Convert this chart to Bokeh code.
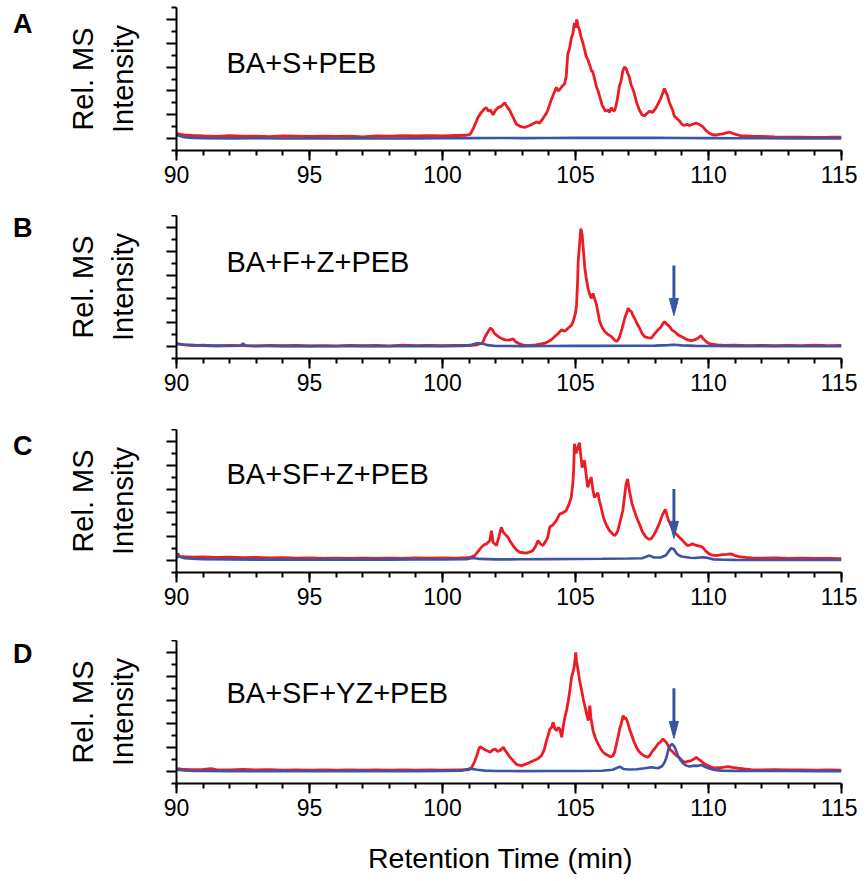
from bokeh.plotting import figure
from bokeh.layouts import column, row
from bokeh.models import FixedTicker, Label, ColumnDataSource, Div
from bokeh.embed import file_html
from bokeh.resources import INLINE

# ---------------- data ----------------
X_MAJOR = [90, 95, 100, 105, 110, 115]
X_MINOR = list(range(90, 116))
Y_MAJOR = [0, 20, 40, 60, 80, 100]
Y_MINOR = [-10, 10, 30, 50, 70, 90, 110]

PANEL_LETTERS = ["A", "B", "C", "D"]
PANEL_TITLES = ["BA+S+PEB", "BA+F+Z+PEB", "BA+SF+Z+PEB", "BA+SF+YZ+PEB"]
X_TITLE = "Retention Time (min)"
Y_TITLE = "Rel. MS\nIntensity"

A_RED = [(90.0,4.5),(90.15,3.5),(90.3,3.0),(90.6,2.6),(91.0,2.2),(91.5,1.9),(92.0,2.4),(92.5,2.0),(93.0,2.1),(93.5,1.7),
 (94.0,2.2),(94.5,2.0),(95.0,1.8),(95.5,2.1),(96.0,1.9),(96.5,2.0),(97.0,1.5),(97.5,2.3),(98.0,2.0),(98.5,2.4),(99.0,2.2),
 (99.5,2.5),(100.0,2.3),(100.5,2.6),(100.9,2.8),(101.03,3.5),(101.15,8),(101.34,18),(101.46,22),(101.58,25),(101.65,26),
 (101.72,23),(101.8,24),(101.9,20),(102.0,24),(102.09,26),(102.2,27),(102.34,30),(102.42,27),(102.53,23.5),(102.65,18),
 (102.78,12),(102.9,10.5),(102.96,10),(103.1,9.5),(103.28,11),(103.4,12.5),(103.53,14),(103.65,13),(103.78,17),(103.9,21),
 (103.96,24),(104.05,30),(104.15,36),(104.28,43),(104.35,40),(104.4,41),(104.5,44),(104.59,46),(104.65,52),(104.71,71),
 (104.78,76),(104.84,84),(104.9,88),(104.96,97),(105.0,93),(105.05,100),(105.1,94),(105.15,91),(105.2,86),(105.28,80),
 (105.35,74),(105.4,69),(105.47,66),(105.53,62),(105.6,57),(105.65,56),(105.72,50),(105.78,44),(105.85,40),(105.9,36),
 (106.0,28),(106.03,27),(106.12,23),(106.21,24),(106.28,22),(106.34,26),(106.4,24),(106.46,23),(106.52,27),(106.59,35),
 (106.65,44),(106.71,48),(106.78,57),(106.84,60),(106.9,59),(106.96,55),(107.02,52),(107.09,45),(107.15,42),(107.21,38),
 (107.3,30),(107.4,24),(107.5,20),(107.59,19),(107.68,21),(107.78,23),(107.9,22),(108.03,26),(108.12,30),(108.21,34),
 (108.28,38),(108.34,42),(108.4,39),(108.46,36),(108.52,31),(108.59,27),(108.65,24),(108.71,19),(108.8,17),(108.9,15),
 (109.0,12),(109.09,11),(109.2,12),(109.28,11),(109.4,12),(109.53,13),(109.65,12),(109.78,10),(109.9,7),(110.03,4.5),
 (110.15,3.2),(110.28,3),(110.4,3.5),(110.53,4),(110.7,5),(110.78,5.5),(110.9,4.5),(111.03,3.5),(111.2,2.5),(111.4,2.3),
 (111.65,2.0),(112.0,1.8),(112.5,1.4),(113.0,1.2),(113.5,1.3),(114.0,1.0),(114.5,1.1),(115.0,1.2)]

A_BLUE = [(90.0,3.2),(90.15,2.0),(90.3,1.2),(90.6,0.6),(91,0.3),(92,0.2),(93,0.3),(94,0.1),(95,0.2),(96,0.1),(97,0.2),
 (98,0.1),(99,0.2),(100,0.3),(101,0.4),(102,0.5),(103,0.4),(104,0.5),(105,0.6),(106,0.6),(107,0.7),(108,0.6),(109,0.5),
 (110,0.4),(111,0.3),(112,0.3),(113,0.2),(114,0.2),(115,0.2)]

B_RED = [(90.0,2.5),(90.3,1.5),(90.6,0.8),(91,1.2),(91.5,0.6),(92,1.0),(92.5,0.8),(93,0.5),(93.5,1.0),(94,0.7),(94.5,0.9),
 (95,0.5),(95.5,0.8),(96,0.6),(96.5,1.0),(97,0.7),(97.5,0.9),(98,0.6),(98.5,1.1),(99,0.8),(99.5,1.0),(100,0.7),(100.5,1.0),
 (101.0,0.9),(101.3,1.5),(101.5,3),(101.6,8),(101.7,12),(101.8,15.5),(101.88,14),(101.95,11),(102.1,8.4),(102.2,7),
 (102.35,5.6),(102.5,5.5),(102.66,6.4),(102.75,4),(102.85,2.8),(103.0,1.5),(103.2,0.8),(103.5,1.5),(103.7,2.2),(103.85,2.8),
 (104.0,4.5),(104.1,6),(104.22,8.4),(104.35,11),(104.47,14),(104.6,13),(104.72,15.4),(104.85,18),(104.91,21),(105.0,28),
 (105.04,35),(105.08,55),(105.1,71),(105.15,85),(105.2,99),(105.25,94),(105.3,80),(105.35,66),(105.4,58),(105.47,49),
 (105.53,44),(105.6,40.5),(105.66,44.7),(105.72,40),(105.79,35),(105.85,28),(105.91,21),(106.0,16),(106.1,12.6),
 (106.2,10.5),(106.35,8.4),(106.45,6),(106.54,4.2),(106.6,5.5),(106.66,8.4),(106.75,15),(106.85,23.8),(106.92,28),
 (106.98,32.2),(107.04,30),(107.1,29.4),(107.16,26),(107.22,23.8),(107.3,20),(107.41,15.4),(107.5,11),(107.6,8.4),
 (107.72,7.5),(107.85,7),(107.95,10),(108.1,14),(108.2,16),(108.28,19),(108.35,21),(108.42,19),(108.54,16.8),(108.62,14),
 (108.72,12.6),(108.85,10),(108.98,8.4),(109.1,7),(109.22,5.6),(109.35,5),(109.47,5.6),(109.6,7),(109.72,9.2),(109.78,7),
 (109.85,5.6),(109.95,3.5),(110.1,2),(110.35,1.4),(110.6,1.0),(111,1.2),(111.5,0.8),(112,1.0),(112.5,0.7),(113,1.0),
 (113.5,0.8),(114,1.1),(114.5,0.8),(115,1.0)]

B_BLUE = [(90.0,2.5),(90.2,1.8),(90.5,1.5),(90.8,1.0),(91.2,0.6),(91.6,0.8),(92.0,0.5),(92.4,0.7),(92.5,2.5),(92.6,0.7),
 (93,0.5),(94,0.4),(95,0.5),(96,0.3),(97,0.4),(98,0.3),(99,0.4),(100,0.4),(100.8,0.6),(101.1,1.5),(101.3,2.8),(101.5,2.5),
 (101.7,1.2),(102,0.5),(103,0.4),(104,0.5),(105,0.6),(106,0.6),(107,0.7),(108,0.8),(108.5,1.2),(108.7,1.6),(109,1.0),
 (109.5,0.6),(110,0.5),(111,0.4),(112,0.4),(113,0.3),(114,0.3),(115,0.3)]

C_RED = [(90.0,3.5),(90.05,6),(90.1,3.5),(90.3,3.2),(90.6,2.8),(91,3.0),(91.5,2.6),(92,2.8),(92.5,2.4),(93,2.6),(93.5,2.2),
 (94,2.4),(94.5,2.1),(95,2.3),(95.5,1.9),(96,2.1),(96.5,1.8),(97,2.0),(97.5,1.8),(98,2.1),(98.5,1.9),(99,2.2),(99.5,2.0),
 (100,2.3),(100.5,2.1),(101.0,2.4),(101.21,4.2),(101.35,8),(101.46,11.2),(101.55,13),(101.65,14),(101.78,16.8),(101.84,25),
 (101.9,15.4),(102.03,12.6),(102.12,20),(102.21,28),(102.28,24),(102.34,22.4),(102.46,19.6),(102.55,16),(102.65,12.6),
 (102.78,9),(102.9,7),(103.15,6.2),(103.4,8.4),(103.5,12),(103.59,16.8),(103.68,14),(103.78,12.6),(103.9,17),(103.96,19.6),
 (104.03,28),(104.15,30),(104.28,33.6),(104.4,39),(104.52,40),(104.65,42),(104.75,47),(104.84,53),(104.9,65),(104.93,75.5),
 (104.96,98),(105.02,90),(105.09,95),(105.15,99),(105.2,88),(105.25,78),(105.3,82),(105.34,84),(105.4,72),(105.46,61.5),
 (105.52,66),(105.59,70),(105.65,60),(105.71,53),(105.78,55),(105.84,57),(105.9,50),(105.96,45),(106.03,38),(106.09,33.6),
 (106.18,29),(106.28,25),(106.37,23),(106.46,21),(106.52,22),(106.59,25),(106.68,33),(106.78,42),(106.85,55),(106.9,64),
 (106.96,68.5),(107.0,62),(107.05,56),(107.12,48),(107.21,42),(107.3,36),(107.4,30.8),(107.52,24),(107.65,19.6),(107.75,18),
 (107.84,18.2),(107.93,21),(108.03,25),(108.15,31),(108.28,39),(108.38,43),(108.44,38),(108.5,33.6),(108.58,30),
 (108.65,26.6),(108.75,23),(108.84,21),(108.93,19),(109.03,16.8),(109.12,14.5),(109.21,12.6),(109.3,13),(109.4,14),
 (109.5,13),(109.59,12.6),(109.7,12),(109.78,11.2),(109.9,8),(110.03,5.6),(110.15,4.5),(110.28,4.2),(110.4,4.5),
 (110.53,5),(110.7,5.2),(110.84,5.6),(111.0,4.2),(111.15,3.4),(111.4,2.6),(111.65,2.2),(112,2.0),(112.5,2.2),(113,1.9),
 (113.5,2.1),(114,1.8),(114.5,1.9),(115,1.6)]

C_BLUE = [(90.0,2.5),(90.1,3.5),(90.3,2.0),(90.6,1.5),(91,1.2),(92,1.0),(93,0.8),(94,0.9),(95,0.7),(96,0.8),(97,0.7),
 (98,0.8),(99,0.9),(100,0.9),(100.9,1.2),(101.15,2.2),(101.4,1.4),(102,1.0),(103,1.1),(104,1.2),(105,1.3),(106,1.5),
 (107,1.8),(107.5,2.0),(107.78,4.2),(107.95,2.6),(108.2,2.6),(108.4,4.5),(108.5,7.5),(108.6,10.5),(108.7,9.5),(108.8,6),
 (108.9,4.2),(109.0,3.5),(109.3,2.4),(109.5,2.2),(109.75,2.8),(109.9,2.5),(110.2,1.0),(110.6,0.7),(111,0.6),(112,0.5),
 (113,0.5),(114,0.5),(115,0.5)]

D_RED = [(90.0,2.5),(90.2,2.0),(90.5,1.6),(91,1.8),(91.3,2.4),(91.5,1.7),(92,1.5),(92.5,1.8),(93,1.4),(93.5,1.6),(94,1.3),
 (94.5,1.5),(95,1.2),(95.5,1.4),(96,1.3),(96.5,1.5),(97,1.2),(97.5,1.4),(98,1.3),(98.5,1.5),(99,1.3),(99.5,1.4),(100,1.3),
 (100.5,1.5),(100.98,1.4),(101.1,3.6),(101.2,8),(101.29,13.4),(101.35,18),(101.41,21),(101.48,20),(101.54,19),(101.66,17.6),
 (101.79,16.2),(101.88,18),(101.98,19),(102.07,17),(102.16,17.6),(102.29,20.4),(102.35,18),(102.41,16.2),(102.5,13),
 (102.6,10.6),(102.7,8),(102.79,5.9),(102.98,5),(103.1,6),(103.22,7),(103.35,8.5),(103.48,9.8),(103.6,11),(103.72,13.4),
 (103.82,18),(103.91,26),(103.98,31),(104.04,35.8),(104.1,37),(104.16,41.4),(104.22,36),(104.29,34.4),(104.35,37),
 (104.41,35.8),(104.48,28.8),(104.54,38),(104.6,45.6),(104.67,52),(104.73,59.6),(104.79,68),(104.85,79),(104.9,83),
 (104.95,87.5),(105.01,100),(105.04,92),(105.08,87.5),(105.15,77),(105.23,68),(105.3,60),(105.35,55.4),(105.42,48),
 (105.48,42.8),(105.51,50),(105.54,55.4),(105.58,45),(105.66,34.4),(105.75,28),(105.85,23.2),(105.95,19),(106.04,16.2),
 (106.13,14.5),(106.23,13.4),(106.32,12.5),(106.41,13.4),(106.48,17),(106.54,23.2),(106.6,29),(106.66,35.8),(106.73,41),
 (106.79,47),(106.85,44),(106.88,45.6),(106.93,43),(106.98,40),(107.04,35),(107.1,31.6),(107.2,25),(107.29,20.4),
 (107.38,17),(107.48,14.8),(107.6,13),(107.73,12),(107.82,14.5),(107.91,17.6),(108.0,20),(108.1,23.2),(108.2,25),
 (108.29,27.4),(108.35,26),(108.41,24.6),(108.48,22),(108.54,19),(108.63,17),(108.73,14.8),(108.82,13),(108.91,11.5),
 (109.0,9.5),(109.1,7.8),(109.22,8.5),(109.35,9.2),(109.45,10.5),(109.54,12),(109.62,10.5),(109.73,8.7),(109.85,6.5),
 (109.98,5),(110.1,3.8),(110.23,3),(110.35,3.2),(110.48,3.4),(110.6,3.8),(110.73,4.2),(110.9,3.5),(111.1,2.8),(111.35,2.2),
 (111.6,1.7),(112,1.5),(112.5,1.6),(113,1.4),(113.5,1.5),(114,1.3),(114.5,1.4),(115,1.2)]

D_BLUE = [(90.0,1.5),(90.3,0.9),(90.6,0.6),(91,0.5),(92,0.4),(93,0.3),(94,0.4),(95,0.3),(96,0.3),(97,0.4),(98,0.3),(99,0.4),
 (100,0.5),(100.7,0.8),(101.04,2.5),(101.3,1.5),(101.6,0.8),(102,0.5),(103,0.4),(104,0.5),(105,0.5),(106,0.7),(106.4,1.5),
 (106.55,3.0),(106.66,4.2),(106.8,2.2),(107.0,1.8),(107.3,2.0),(107.6,2.8),(107.85,3.6),(108.1,2.8),(108.25,4.5),
 (108.35,7.8),(108.42,12),(108.5,19),(108.57,22),(108.63,23.2),(108.68,22),(108.73,20.4),(108.79,17),(108.85,13.4),
 (108.95,9.5),(109.04,7),(109.15,5.2),(109.29,4.2),(109.48,5),(109.6,4.8),(109.73,5.6),(109.82,4.5),(109.91,3.6),
 (110.05,2.3),(110.23,1.4),(110.5,0.8),(111,0.6),(112,0.5),(113,0.5),(114,0.4),(115,0.4)]

# arrow (x, top, tip) per panel; None = no arrow
ARROWS = [None, (108.7, 68, 26), (108.7, 60, 18.6), (108.7, 70, 27.8)]

RED = "#ED1C24"
BLUE = "#3A55A4"
FONT = "Liberation Sans"

# ---------------- layout ----------------
FRAME_W, FRAME_H = 665, 143
DIV_W = 40
TOPS = [7, 0, 0, 0]
BOTTOMS = [65, 71, 68, 50]
LETTER_PAD = [11, 0, 4, 1]           # letter box top below figure top
TITLE_DY = [55, 46, 44, 52]          # panel text centre below frame top
HEAD_LEN = 14.3   # y units
HEAD_HALF = 0.17  # minutes

series = [(A_RED, A_BLUE), (B_RED, B_BLUE), (C_RED, C_BLUE), (D_RED, D_BLUE)]

rows = []
for i, (red, blue) in enumerate(series):
    fig_h = TOPS[i] + FRAME_H + BOTTOMS[i]
    p = figure(frame_width=FRAME_W, frame_height=FRAME_H, x_range=(90, 115), y_range=(-10, 110),
               output_backend="svg", toolbar_location=None,
               min_border_left=176 - DIV_W, min_border_right=16,
               min_border_top=TOPS[i], min_border_bottom=BOTTOMS[i])
    p.grid.visible = False
    p.outline_line_color = None
    p.background_fill_color = "white"
    p.border_fill_color = "white"

    rs = ColumnDataSource(dict(t=[a for a, b in red], v=[b for a, b in red]))
    bs = ColumnDataSource(dict(t=[a for a, b in blue], v=[b for a, b in blue]))
    p.line("t", "v", source=rs, line_color=RED, line_width=2.8)
    p.line("t", "v", source=bs, line_color=BLUE, line_width=2.6)

    if ARROWS[i] is not None:
        ax, atop, atip = ARROWS[i]
        p.segment(x0=[ax], y0=[atop], x1=[ax], y1=[atip + HEAD_LEN * 0.6], line_color=BLUE, line_width=3)
        p.patches(xs=[[ax - HEAD_HALF, ax + HEAD_HALF, ax]],
                  ys=[[atip + HEAD_LEN, atip + HEAD_LEN, atip]],
                  fill_color=BLUE, line_color=BLUE, line_width=1)

    xa = p.xaxis[0]
    xa.ticker = FixedTicker(ticks=X_MAJOR, minor_ticks=X_MINOR)
    ya = p.yaxis[0]
    ya.ticker = FixedTicker(ticks=Y_MAJOR, minor_ticks=Y_MINOR)
    ya.major_label_overrides = {t: "" for t in Y_MAJOR}
    for ax_ in (xa, ya):
        ax_.axis_line_width = 2
        ax_.axis_line_color = "black"
        ax_.major_tick_line_width = 2
        ax_.minor_tick_line_width = 2
        ax_.major_tick_line_color = "black"
        ax_.minor_tick_line_color = "black"
        ax_.major_tick_in = 0
        ax_.minor_tick_in = 0
        ax_.major_tick_out = 10
        ax_.minor_tick_out = 5
        ax_.major_label_text_font = FONT
        ax_.major_label_text_font_size = "23px"
        ax_.major_label_text_color = "black"
    xa.major_label_standoff = 5
    ya.major_label_standoff = 0
    ya.axis_label = Y_TITLE
    ya.axis_label_text_font = FONT
    ya.axis_label_text_font_size = "29px"
    ya.axis_label_text_font_style = "normal"
    ya.axis_label_text_color = "black"
    ya.axis_label_text_line_height = 1.25
    ya.axis_label_standoff = 28

    p.add_layout(Label(x=50, y=FRAME_H - TITLE_DY[i], x_units="screen", y_units="screen",
                       text=PANEL_TITLES[i], text_font=FONT, text_font_size="29px",
                       text_color="black", text_baseline="middle", text_align="left"))

    letter = Div(text=('<span style="display:block;font-family:\'%s\';font-size:27px;font-weight:bold;'
                       'line-height:27px;color:black;margin:0;padding:0">%s</span>') % (FONT, PANEL_LETTERS[i]),
                 width=DIV_W, height=fig_h, margin=0,
                 styles={"padding-left": "13px", "padding-top": "%dpx" % LETTER_PAD[i],
                         "box-sizing": "border-box"})
    rows.append(row(letter, p, spacing=0))

xtitle = Div(text=('<span style="display:block;font-family:\'%s\';font-size:28.5px;'
                   'line-height:29px;color:black;margin:0;padding:0;white-space:nowrap">%s</span>') % (FONT, X_TITLE),
             width=860, height=40, margin=0,
             styles={"padding-left": "368px", "padding-top": "11px", "box-sizing": "border-box"})
rows.append(xtitle)

layout = column(*rows, spacing=0)
open("out.html", "w").write(file_html(layout, INLINE))
